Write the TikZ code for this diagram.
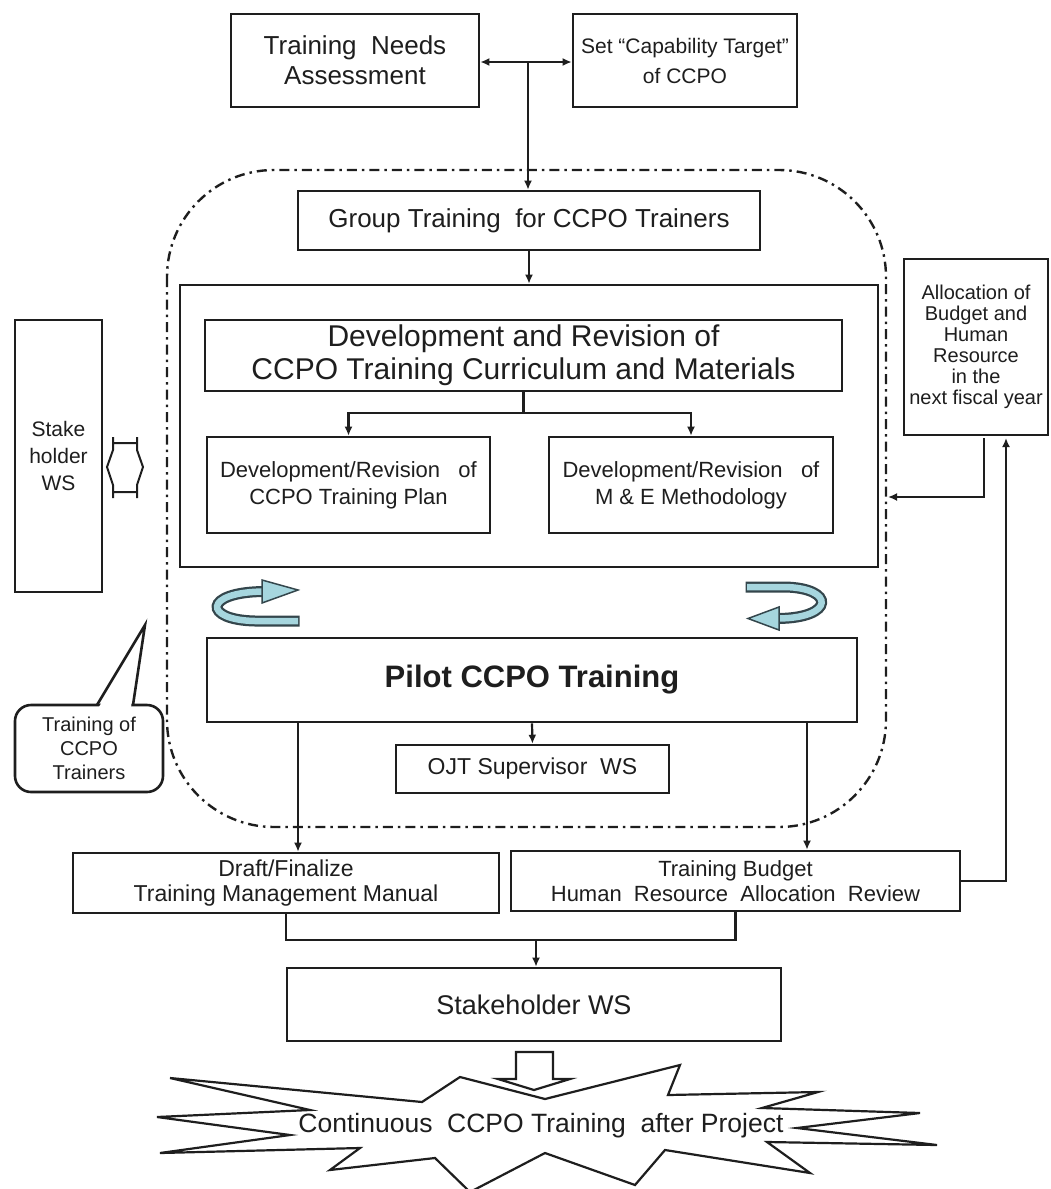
\documentclass[tikz,border=0pt]{standalone}
\usepackage{fontspec}
\setmainfont{Liberation Sans}
\usetikzlibrary{arrows.meta}
\definecolor{swirl}{HTML}{A6D6DE}
\definecolor{swirlline}{HTML}{34464C}
\definecolor{ink}{HTML}{1E1E1E}
\begin{document}
\begin{tikzpicture}[x=1pt,y=-1pt,
  box/.style={draw=ink, text=ink, line width=2.6pt, inner sep=0pt, align=center, fill=white},
  arr/.style={draw=ink, line width=2.2pt, -{Latex[length=9pt,width=8pt]}},
  ln/.style={draw=ink, line width=2.2pt},
  dd/.style={draw=ink, line width=2.4pt, dash pattern=on 10pt off 5pt on 2.5pt off 5pt},
  sw/.style={swirlline, line width=11pt},
  swin/.style={swirl, line width=6.5pt}]
\useasboundingbox (0,0) rectangle (1051,1189);

% dash-dot region
\draw[dd, rounded corners=107pt] (167,170) rectangle (886,827);

% top boxes
\node[box, minimum width=248pt, minimum height=93pt, font=\fontsize{26}{30}\selectfont] (tna) at (355,60.5) {Training\ \ Needs\\Assessment};
\node[box, minimum width=224pt, minimum height=93pt, font=\fontsize{21}{30}\selectfont] (cap) at (685,60.5) {Set “Capability Target”\\of CCPO};
\node[box, minimum width=462pt, minimum height=59pt, font=\fontsize{26}{30}\selectfont] (gt) at (529,220.5) {Group Training\ \ for CCPO Trainers};
\coordinate (j1) at (528,62);
\draw[arr] (j1) -- (tna.east |- j1);
\draw[arr] (j1) -- (cap.west |- j1);
\draw[arr] (j1) -- (j1 |- gt.north);

% big box
\node[box, minimum width=698pt, minimum height=282pt] (big) at (529,426) {};
\draw[arr] (gt.south) -- (big.north);
\node[box, minimum width=637pt, minimum height=71pt, font=\fontsize{30}{33}\selectfont] (dev) at (523.5,355.5) {Development and Revision of\\CCPO Training Curriculum and Materials};
\node[box, minimum width=283pt, minimum height=96pt, font=\fontsize{22}{27}\selectfont] (sp) at (348.5,485) {Development/Revision\ \ \ of\\CCPO Training Plan};
\node[box, minimum width=284pt, minimum height=96pt, font=\fontsize{22}{27}\selectfont] (me) at (691,485) {Development/Revision\ \ \ of\\M \& E Methodology};
\coordinate (j2) at (523.5,413);
\draw[ln] (dev.south) -- (j2);
\draw[arr] (j2) -| (sp.north);
\draw[arr] (j2) -| (me.north);

% swirls
\draw[sw] (299.5,621) -- (255,621) .. controls (203,620) and (203,592) .. (264,591.5);
\draw[swin] (298,621) -- (255,621) .. controls (203,620) and (203,592) .. (264,591.5);
\draw[swirlline, line width=1.5pt, fill=swirl] (262,580) -- (298,590) -- (262,603) -- cycle;
\draw[sw] (745.5,587) -- (785,587) .. controls (835,588) and (835,618) .. (778,618.5);
\draw[swin] (747,587) -- (785,587) .. controls (835,588) and (835,618) .. (778,618.5);
\draw[swirlline, line width=1.5pt, fill=swirl] (779,607) -- (748,618.5) -- (779,630) -- cycle;

% pilot
\node[box, minimum width=650pt, minimum height=84pt, font=\fontsize{31}{36}\selectfont\bfseries] (pilot) at (532,680) {Pilot CCPO Training};
\node[box, minimum width=273pt, minimum height=48pt, font=\fontsize{23}{26}\selectfont] (ojt) at (532.5,769) {OJT Supervisor\ \ WS};
\draw[arr] (pilot.south) -- (ojt.north);

% lower boxes
\node[box, minimum width=426pt, minimum height=60pt, font=\fontsize{23}{25}\selectfont] (draft) at (286,883) {Draft/Finalize\\Training Management Manual};
\node[box, minimum width=449pt, minimum height=60pt, font=\fontsize{22}{25}\selectfont] (budget) at (735.5,881) {Training Budget\\Human\ \ Resource\ \ Allocation\ \ Review};
\coordinate (p1) at (298,722);
\coordinate (p2) at (807,722);
\draw[arr] (p1) -- (p1 |- draft.north);
\draw[arr] (p2) -- (p2 |- budget.north);

\node[box, minimum width=494pt, minimum height=73pt, font=\fontsize{27}{30}\selectfont] (skw) at (534,1004.5) {Stakeholder WS};
\coordinate (j3) at (536,940);
\draw[ln] (draft.south) |- (budget.south |- j3) -- (budget.south);
\draw[arr] (j3) -- (j3 |- skw.north);

% allocation box
\node[box, minimum width=144pt, minimum height=176pt, font=\fontsize{20}{21}\selectfont] (alloc) at (976,347) {Allocation\ of\\Budget and\\Human\\Resource\\in the\\next fiscal year};
\coordinate (a1) at (984,438);
\coordinate (a2) at (1006,438);
\coordinate (rg) at (888,497);
\draw[arr] (budget.east) -| (a2);
\draw[arr] (a1) |- (rg);

% stakeholder tall box
\node[box, minimum width=87pt, minimum height=272pt, font=\fontsize{21}{27}\selectfont] (stk) at (58.5,456) {Stake\\holder\\WS};
\draw[ink, line width=2pt, fill=white] (113,437) -- (113,443) -- (137,443) -- (137,437) -- (137,450) -- (143,467) -- (137,485) -- (137,498) -- (137,492) -- (113,492) -- (113,498) -- (113,485) -- (107,467) -- (113,450) -- cycle;

% callout
\node[box, rounded corners=16pt, minimum width=148pt, minimum height=87pt, font=\fontsize{20}{24}\selectfont] (tcpo) at (89,748.5) {Training of\\CCPO\\Trainers};
\coordinate (tip) at (145,625);
\fill[white] (99,707) -- (tip) -- (131,707) -- cycle;
\draw[ink, line width=2.6pt, line join=miter] (97,705) -- (tip) -- (133,705);

% explosion
\draw[ln, fill=white, line join=miter] (170,1078) -- (422,1102) -- (460,1077) -- (545,1099) -- (680,1065) -- (668,1095) -- (818,1092) -- (762,1108) -- (920,1113) -- (797,1128) -- (937,1145) -- (767,1142) -- (810,1173) -- (665,1150) -- (635,1185) -- (545,1153) -- (470,1192) -- (435,1158) -- (330,1170) -- (360,1148) -- (160,1153) -- (290,1135) -- (157,1117) -- (310,1110) -- cycle;
\node[font=\fontsize{26.5}{30}\selectfont, text=ink, inner sep=0pt] (cont) at (541,1126) {Continuous\ \ CCPO Training\ \ after Project};
\draw[ln, fill=white] (516,1052) -- (553,1052) -- (553,1079) -- (570,1079) -- (534,1090) -- (498,1079) -- (516,1079) -- cycle;
\end{tikzpicture}
\end{document}
